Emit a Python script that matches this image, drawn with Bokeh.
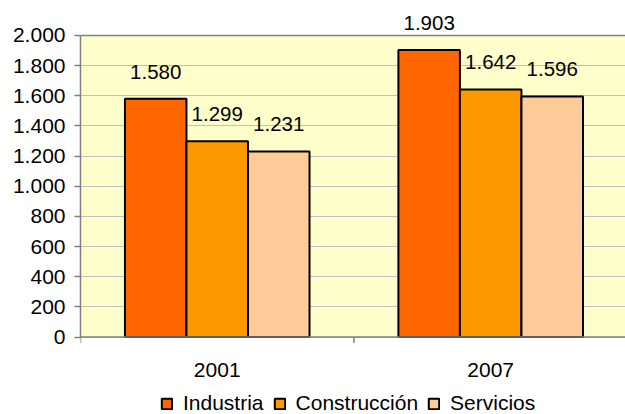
from bokeh.plotting import figure
from bokeh.models import (ColumnDataSource, Range1d, FixedTicker, Legend, LegendItem,
                          BoxAnnotation, Span)
from bokeh.core.properties import value
from bokeh.embed import file_html
from bokeh.resources import INLINE

categories = ["2001", "2007"]
series = ["Industria", "Construcción", "Servicios"]
industria = [1580, 1903]
construccion = [1299, 1642]
servicios = [1231, 1596]
value_labels = {
    "Industria": ["1.580", "1.903"],
    "Construcción": ["1.299", "1.642"],
    "Servicios": ["1.231", "1.596"],
}
y_ticks = [0, 200, 400, 600, 800, 1000, 1200, 1400, 1600, 1800, 2000]
y_tick_labels = ["0", "200", "400", "600", "800", "1.000", "1.200", "1.400", "1.600", "1.800", "2.000"]
y_max = 2000

colors = ["#FF6600", "#FF9900", "#FFCC99"]
values = [industria, construccion, servicios]
offsets = [-0.225, 0.0, 0.225]
bar_w = 0.225
tick_len = 40  # in data units (~6 px)
FONT = "Liberation Sans"
FS = "21px"
GRAY = "#808080"

p = figure(width=625, height=414, output_backend="svg", toolbar_location=None,
           x_range=Range1d(0, 1.993), y_range=Range1d(-514, 2232),
           min_border_left=80, min_border_right=0, min_border_top=0, min_border_bottom=0)
p.background_fill_color = "white"
p.border_fill_color = "white"
p.outline_line_color = None
p.xaxis.visible = False

# plot area (yellow) and its top border
p.add_layout(BoxAnnotation(bottom=0, top=y_max, fill_color="#FFFFCC", fill_alpha=1,
                           line_color=None, level="image"))
p.add_layout(Span(location=y_max, dimension="width", line_color=GRAY, line_width=1.5))

items = []
for name, vals, col, off in zip(series, values, colors, offsets):
    xs = [i + 0.5 + off for i in range(len(categories))]
    src = ColumnDataSource(dict(x=xs, top=vals, lab=value_labels[name]))
    r = p.vbar(x="x", top="top", width=bar_w, source=src, fill_color=col,
               line_color="black", line_width=2)
    p.text(x="x", y="top", text="lab", source=src, text_align="center",
           text_baseline="bottom", y_offset=-20, text_font=value(FONT),
           text_font_size="20.5px", text_color="black")
    items.append(LegendItem(label=name, renderers=[r]))

# category axis drawn in the plot: baseline, boundary ticks, labels
p.add_layout(Span(location=0, dimension="width", line_color=GRAY, line_width=1.5))
bounds_x = list(range(len(categories) + 1))
p.segment(x0=bounds_x, x1=bounds_x, y0=[0] * len(bounds_x), y1=[-tick_len] * len(bounds_x),
          line_color=GRAY, line_width=1.5)
cat_src = ColumnDataSource(dict(x=[i + 0.5 for i in range(len(categories))],
                                y=[0] * len(categories), lab=categories))
p.text(x="x", y="y", text="lab", source=cat_src, text_align="center",
       text_baseline="top", y_offset=26, text_font=value(FONT),
       text_font_size=FS, text_color="black")

# y axis
p.yaxis.ticker = FixedTicker(ticks=y_ticks)
p.yaxis.bounds = (0, y_max)
p.yaxis.major_label_overrides = {t: l for t, l in zip(y_ticks, y_tick_labels)}
p.yaxis.minor_tick_line_color = None
p.yaxis.major_tick_in = 0
p.yaxis.major_tick_out = 6
p.yaxis.axis_line_color = GRAY
p.yaxis.axis_line_width = 1.5
p.yaxis.major_tick_line_color = GRAY
p.yaxis.major_tick_line_width = 1.5
p.yaxis.major_label_standoff = 9
p.yaxis.major_label_text_font = FONT
p.yaxis.major_label_text_font_size = FS
p.yaxis.major_label_text_color = "black"

p.xgrid.grid_line_color = None
p.ygrid.ticker = FixedTicker(ticks=y_ticks)
p.ygrid.grid_line_color = "#C0C0C0"
p.ygrid.grid_line_width = 1

legend = Legend(items=items, orientation="horizontal", location=(80, -1),
                margin=0, padding=0, spacing=9, label_standoff=10,
                glyph_width=13, glyph_height=13,
                label_text_font=FONT, label_text_font_size=FS, label_text_color="black",
                border_line_color=None, background_fill_alpha=0)
p.add_layout(legend, "center")

open("out.html", "w").write(file_html(p, INLINE))
